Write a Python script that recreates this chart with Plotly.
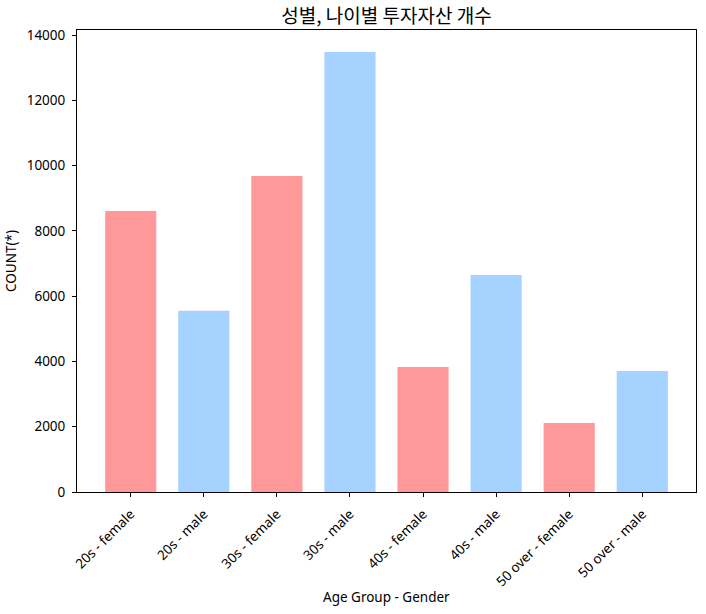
import plotly.graph_objects as go

categories = ["20s - female", "20s - male", "30s - female", "30s - male",
              "40s - female", "40s - male", "50 over - female", "50 over - male"]
counts = [8610, 5550, 9680, 13480, 3830, 6650, 2115, 3705]
genders = ["female", "male", "female", "male", "female", "male", "female", "male"]
color_map = {"female": "#ff9999", "male": "#a6d2ff"}
y_ticks = [0, 2000, 4000, 6000, 8000, 10000, 12000, 14000]

LATIN = "Noto Sans, Noto Sans CJK KR, DejaVu Sans, sans-serif"
KOREAN = "Noto Sans CJK KR, Noto Sans, sans-serif"

fig = go.Figure()
fig.add_trace(go.Bar(
    x=list(range(len(categories))),
    y=counts,
    width=0.7,
    marker=dict(color=[color_map[g] for g in genders], line=dict(width=0)),
    showlegend=False,
))

fig.update_layout(
    width=706, height=614,
    margin=dict(l=77, r=10, t=30, b=122),
    paper_bgcolor="white", plot_bgcolor="white",
    font=dict(family=LATIN, size=13.5, color="black"),
    title=dict(text="성별, 나이별 투자자산 개수", x=0.5, xref="paper",
               y=1 - 16 / 614, yanchor="middle",
               font=dict(family=KOREAN, size=19, color="black")),
    xaxis=dict(
        range=[-0.735, 7.735],
        tickmode="array", tickvals=list(range(len(categories))), ticktext=categories,
        tickangle=-45, ticks="outside", ticklen=4, tickcolor="black",
        showline=True, linecolor="black", linewidth=1, mirror=True,
        showgrid=False, zeroline=False, tickfont=dict(size=13.5),
        ticklabelstandoff=4,
    ),
    yaxis=dict(
        range=[0, 14154],
        tickmode="array", tickvals=y_ticks, ticktext=[str(v) for v in y_ticks],
        ticks="outside", ticklen=4, tickcolor="black",
        showline=True, linecolor="black", linewidth=1, mirror=True,
        showgrid=False, zeroline=False, tickfont=dict(size=13.5),
        ticklabelstandoff=4,
        title=dict(text="COUNT(*)", font=dict(size=13.5), standoff=6),
    ),
    annotations=[dict(text="Age Group - Gender", x=0.5, xref="paper",
                      y=-105 / 462, yref="paper", yanchor="middle",
                      showarrow=False, font=dict(size=13.5))],
)

fig.write_html("out.html")
